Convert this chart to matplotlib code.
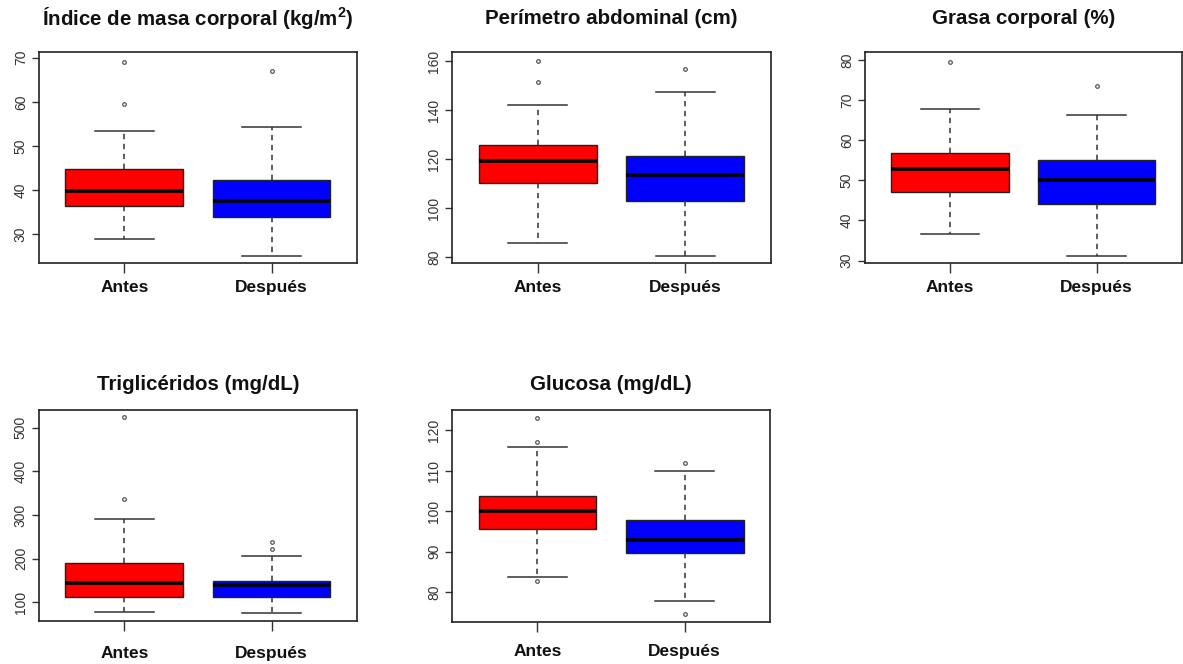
import matplotlib
matplotlib.use("Agg")
import matplotlib.pyplot as plt

plt.rcParams['font.family'] = ['Liberation Sans', 'DejaVu Sans']
plt.rcParams['mathtext.fontset'] = 'custom'
plt.rcParams['mathtext.rm'] = 'Liberation Sans'
plt.rcParams['mathtext.bf'] = 'Liberation Sans:bold'

titles = [r"Índice de masa corporal (kg/m$^{\mathbf{2}}$)", "Perímetro abdominal (cm)",
          "Grasa corporal (%)", "Triglicéridos (mg/dL)", "Glucosa (mg/dL)"]
groups = ["Antes", "Después"]

# per panel: [Antes, Después]
whislo = [[29.0, 25.1], [86.0, 80.7], [36.6, 31.2], [78.0, 75.0], [83.7, 77.9]]
q1 = [[36.3, 34.0], [110.2, 102.9], [47.0, 44.1], [112.0, 112.0], [95.7, 89.7]]
med = [[39.9, 37.6], [119.2, 113.8], [52.9, 50.0], [143.7, 139.8], [100.0, 92.9]]
q3 = [[44.7, 42.2], [125.7, 121.2], [56.9, 55.0], [190.2, 149.7], [103.8, 97.9]]
whishi = [[53.4, 54.2], [142.2, 147.4], [67.9, 66.3], [291.0, 207.0], [115.9, 110.0]]
fliers = [[[69.1, 59.5], [67.0]],
          [[160.0, 151.4], [157.0]],
          [[79.6], [73.5]],
          [[523.8, 336.7], [239.0, 221.5]],
          [[123.0, 117.0, 82.8], [111.9, 74.7]]]
yticks = [[30, 40, 50, 60, 70], [80, 100, 120, 140, 160], [30, 40, 50, 60, 70, 80],
          [100, 200, 300, 400, 500], [80, 90, 100, 110, 120]]
ylims = [(23.5, 71.3), (77.7, 163.8), (29.4, 82.0), (57.2, 540.5), (72.7, 124.9)]

box_colors = ["#FF0000", "#0000FF"]

W, H = 1183, 664
fig = plt.figure(figsize=(W / 100, H / 100), dpi=100)
fig.patch.set_facecolor("white")

# axes rectangles in pixels: x0, y0, x1, y1 (y from top)
rects = [(39, 52, 357, 263), (452, 52, 771, 263), (865, 52, 1181.5, 263),
         (39, 410, 357, 621), (452, 410, 770, 622)]
title_y = [19, 19, 19, 385, 385]
label_pad = [5, 5, 5, 11, 9]

for i in range(5):
    x0, y0, x1, y1 = rects[i]
    ax = fig.add_axes([x0 / W, 1 - y1 / H, (x1 - x0) / W, (y1 - y0) / H])
    stats = []
    for g in range(2):
        stats.append(dict(whislo=whislo[i][g], q1=q1[i][g], med=med[i][g],
                          q3=q3[i][g], whishi=whishi[i][g], fliers=fliers[i][g],
                          label=groups[g]))
    res = ax.bxp(stats, positions=[1, 2], widths=0.8, capwidths=0.4,
                 patch_artist=True, showfliers=True,
                 boxprops=dict(edgecolor="#222222", linewidth=1.0),
                 medianprops=dict(color="black", linewidth=2.6, solid_capstyle="butt"),
                 whiskerprops=dict(color="#333333", linewidth=1.1, linestyle=(0, (3.5, 3))),
                 capprops=dict(color="#333333", linewidth=1.1),
                 flierprops=dict(marker="o", markersize=2.6, markerfacecolor="none",
                                 markeredgecolor="#555555", markeredgewidth=0.9))
    for b, c in zip(res["boxes"], box_colors):
        b.set_facecolor(c)
    ax.set_xlim(0.42, 2.58)
    ax.set_ylim(*ylims[i])
    ax.set_yticks(yticks[i])
    ax.set_yticklabels([str(t) for t in yticks[i]], rotation=90, va="center",
                       fontsize=10, color="#333333")
    ax.set_xticks([1, 2])
    ax.set_xticklabels(groups, fontsize=12.5, fontweight="bold", color="#111111")
    ax.tick_params(axis="x", length=7, width=1.0, color="#333333", pad=label_pad[i])
    ax.tick_params(axis="y", length=5, width=1.0, color="#333333", pad=3)
    for s in ax.spines.values():
        s.set_linewidth(1.2)
        s.set_color("#222222")
    fig.text(((x0 + x1) / 2) / W, 1 - title_y[i] / H, titles[i], ha="center",
             va="center", fontsize=14.8, fontweight="bold", color="#111111")

fig.savefig("out.png", dpi=100, facecolor="white")
